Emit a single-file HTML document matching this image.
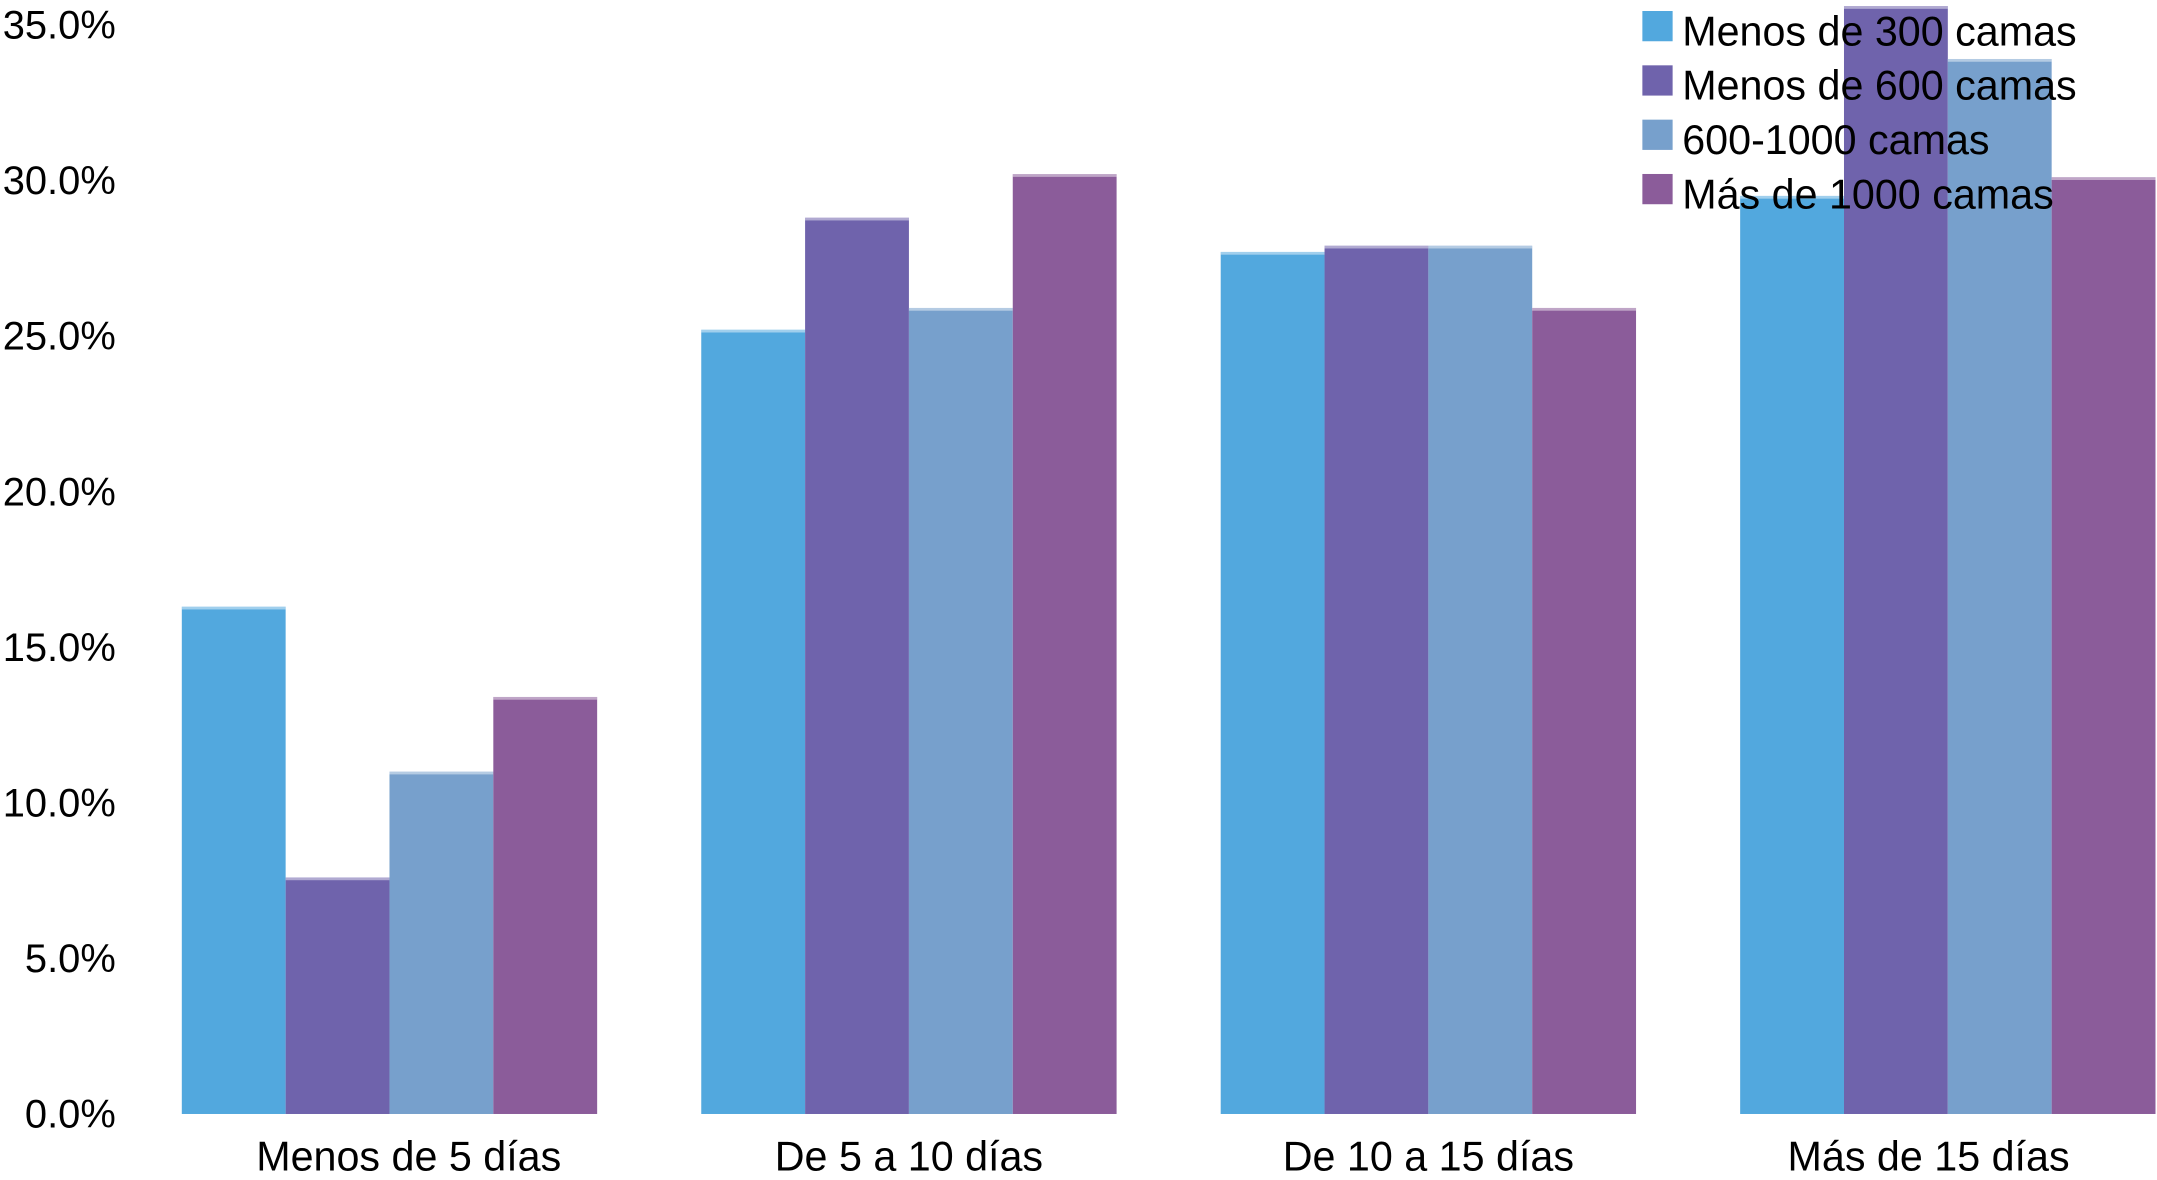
<!DOCTYPE html>
<html><head><meta charset="utf-8"><style>
html,body{margin:0;padding:0;background:#fff;}
svg{display:block;font-family:"Liberation Sans",Arial,sans-serif;}
</style></head><body>
<svg id="chart" width="2157" height="1180" viewBox="0 0 1568 858" xmlns="http://www.w3.org/2000/svg">
<g id="yaxis"></g>
<g id="bars"></g>
<g id="xaxis"></g>
<g id="legend"></g>
</svg>
<script>
const categories = ["Menos de 5 días","De 5 a 10 días","De 10 a 15 días","Más de 15 días"];
const seriesNames = ["Menos de 300 camas","Menos de 600 camas","600-1000 camas","Más de 1000 camas"];
const s300 = [16.3, 25.2, 27.7, 29.5];
const s600 = [7.6, 28.8, 27.9, 35.6];
const s1000 = [11.0, 25.9, 27.9, 33.9];
const sMore = [13.4, 30.2, 25.9, 30.1];
const yTicks = [0,5,10,15,20,25,30,35];

const series = [s300, s600, s1000, sMore];
const colors = ["#52A8DE","#6F63AC","#77A0CC","#8B5C9A"];
const NS = "http://www.w3.org/2000/svg";
const base = 810, top35 = 18;
const y = v => base - v*(base-top35)/35;
const groupStart = 132, groupStep = 377.7, barW = 75.5;
const xBar = (c,s) => groupStart + c*groupStep + s*barW;

function mk(tag, attrs, parent){const e=document.createElementNS(NS,tag);for(const k in attrs)e.setAttribute(k,attrs[k]);parent.appendChild(e);return e;}

const ya = document.getElementById('yaxis');
yTicks.forEach(t=>{
  const e = mk('text',{x:84,y:y(t)+10,'text-anchor':'end','font-size':29,fill:'#000'},ya);
  e.textContent = t.toFixed(1)+'%';
  
  
});

const bg = document.getElementById('bars');
series.forEach((vals,s)=>{
  vals.forEach((v,c)=>{
    const r = mk('rect',{x:xBar(c,s),y:y(v),width:barW,height:base-y(v),fill:colors[s]},bg);
    
    
    mk('rect',{x:xBar(c,s),y:y(v),width:barW,height:2,fill:'#fff','fill-opacity':0.45},bg);
  });
});

const xa = document.getElementById('xaxis');
categories.forEach((c,i)=>{
  const e = mk('text',{x:groupStart+i*groupStep+2*barW+(i===0?14:(i===3?-14:0)),y:851,'text-anchor':'middle','font-size':30,fill:'#000'},xa);
  e.textContent = c;
  
  
});

const lg = document.getElementById('legend');
seriesNames.forEach((n,i)=>{
  const sw = mk('rect',{x:1194,y:8+i*39.5,width:22,height:22,fill:colors[i]},lg);
  
  
  const t = mk('text',{x:1223,y:33+i*39.5,'font-size':30,fill:'#000'},lg);
  t.textContent = n;
  
  
});
</script>
</body></html>
